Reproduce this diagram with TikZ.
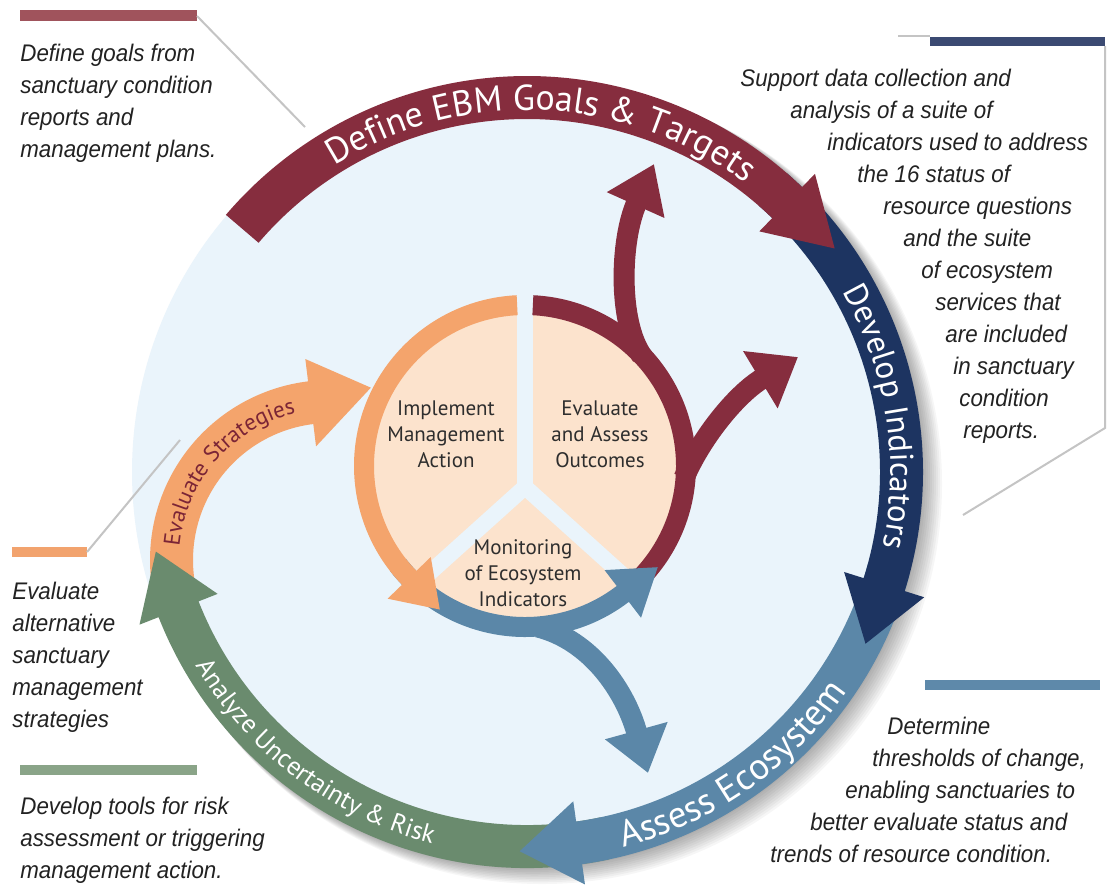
\documentclass[tikz,border=0pt]{standalone}
\usepackage{fontspec}
\setmainfont{Liberation Sans}
\newfontfamily\annfont{Liberation Sans}[FakeStretch=0.93]
\newfontfamily\lblfont{PT Sans}
\usetikzlibrary{calc,decorations.text,arrows.meta}
\definecolor{maroonc}{HTML}{862D3E}
\definecolor{navyc}{HTML}{1D3461}
\definecolor{steelc}{HTML}{5B87A8}
\definecolor{greenc}{HTML}{6A8B6E}
\definecolor{orangec}{HTML}{F4A46C}
\definecolor{discc}{HTML}{EAF4FB}
\definecolor{peachc}{HTML}{FCE3CD}
\definecolor{barmaroon}{HTML}{A0535C}
\definecolor{barnavy}{HTML}{3B4A72}
\definecolor{barorange}{HTML}{F2A36E}
\definecolor{barsteel}{HTML}{5E89AA}
\definecolor{bargreen}{HTML}{8AA488}
\definecolor{leadc}{HTML}{C4C4C4}
\definecolor{anntext}{HTML}{222222}
\definecolor{inntext}{HTML}{2E2E2E}
\definecolor{strattext}{HTML}{7B2536}
% band with arrow head: center, Ri, Ro, start angle, base angle, head direction, head length, head half width, colour
\newcommand{\bandarrow}[9]{%
  \fill[#9] ($(#1)+(#4:#3)$) arc[start angle=#4, end angle=#5, radius=#3]
    -- ($(#1)+(#5:{(#2+#3)/2+#8})$)
    -- ($(#1)+(#5:{(#2+#3)/2})+(#6:#7)$)
    -- ($(#1)+(#5:{(#2+#3)/2-#8})$)
    -- ($(#1)+(#5:#2)$) arc[start angle=#5, end angle=#4, radius=#2] -- cycle;}
% plain band: center, Ri, Ro, a1, a2, colour
\newcommand{\plainband}[6]{%
  \fill[#6] ($(#1)+(#4:#3)$) arc[start angle=#4, end angle=#5, radius=#3]
    -- ($(#1)+(#5:#2)$) arc[start angle=#5, end angle=#4, radius=#2] -- cycle;}
\begin{document}
\begin{tikzpicture}[x=0.5pt,y=0.5pt,
  ann/.style={font=\annfont\itshape\fontsize{12}{16}\selectfont, text=anntext, align=left, anchor=north west, inner sep=0pt},
  inlbl/.style={font=\lblfont\fontsize{10.5}{13}\selectfont, text=inntext, align=center, inner sep=0pt},
  leader/.style={draw=leadc, line width=1pt},
  branch/.style={line width=10.5pt}]
\useasboundingbox (0,0) rectangle (1111,-890);
\fill[white] (0,0) rectangle (1111,-890);
\coordinate (O) at (527,-472);
\coordinate (C2) at (525,-466);
\coordinate (C3) at (330,-560);
% shadow
\foreach \k in {1,...,10} \fill[black, opacity=0.035] ($(O)+(\k*1.5,-\k*1.2)$) circle[radius={395+\k*0.5}];
% disc
\fill[discc] (O) circle[radius=395];
% evaluate strategies arc
\bandarrow{C3}{137}{180}{195}{97}{14}{62}{44}{orangec}
\path[decorate, decoration={text along path, text align=center, text color=strattext,
  text={|\lblfont\fontsize{11.5}{11.5}\selectfont|Evaluate Strategies}}]
  ($(C3)+(190:151)$) arc[start angle=190, end angle=88, radius=151];
% outer ring
\bandarrow{O}{353}{396}{-78}{-158.5}{111.5}{62}{42}{greenc}
\bandarrow{O}{353}{396}{-15}{-82}{-172}{60}{42}{steelc}
\bandarrow{O}{353}{396}{49}{-17.5}{-107.5}{62}{42}{navyc}
\bandarrow{O}{353}{396}{139.5}{46}{-44}{66}{40}{maroonc}
% ring labels
\path[decorate, decoration={text along path, text align=center, text color=white,
  text={|\lblfont\fontsize{18}{18}\selectfont|Define EBM Goals {\&} Targets}}]
  ($(O)+(137.5:362)$) arc[start angle=137.5, end angle=37.5, radius=362];
\path[decorate, decoration={text along path, text align=center, text color=white,
  text={|\lblfont\fontsize{16.5}{16.5}\selectfont|Develop Indicators}}]
  ($(O)+(50:363.5)$) arc[start angle=50, end angle=-32, radius=363.5];
\path[decorate, decoration={text along path, text align=center, text color=white,
  text={|\lblfont\fontsize{18.5}{18.5}\selectfont|Assess Ecosystem}}]
  ($(O)+(-100:387.5)$) arc[start angle=-100, end angle=-10, radius=387.5];
\path[decorate, decoration={text along path, text align=center, text color=white,
  text={|\lblfont\fontsize{13}{13}\selectfont|Analyze Uncertainty {\&} Risk}}]
  ($(O)+(-172:383.5)$) arc[start angle=-172, end angle=-82, radius=383.5];
% inner circle
\fill[peachc] (C2) circle[radius=152];
\coordinate (J) at (525,-487);
\begin{scope}
  \clip (C2) circle[radius=156];
  \draw[discc, line width=8pt] (J) -- ++(-138:200);
  \draw[discc, line width=8pt] (J) -- ++(-42:200);
\end{scope}
\draw[discc, line width=8pt] (J) -- (525,-285);
\plainband{C2}{151}{171}{87.2}{-48}{maroonc}
\coordinate (mb1s) at (642,-356);
\coordinate (mb1t) at (654,-164);
\coordinate (mb2s) at (684,-478);
\coordinate (mb2t) at (798,-357);
\draw[maroonc, branch, -{Triangle[length=22.5pt,width=30pt]}] (mb1s) .. controls (618,-322) and (620,-240) .. (mb1t);
\draw[maroonc, branch, -{Triangle[length=22pt,width=32pt]}] (mb2s) .. controls (700,-440) and (735,-395) .. (mb2t);
\bandarrow{C2}{151}{171}{218}{307.4}{37.4}{44}{30}{steelc}
\coordinate (sbs) at (538,-627);
\coordinate (sbt) at (648,-773);
\draw[steelc, branch, -{Triangle[length=22pt,width=31pt]}] (sbs) .. controls (590,-640) and (625,-690) .. (sbt);
\bandarrow{C2}{151}{171}{92.8}{224}{314}{44}{30}{orangec}
\node[inlbl] (impl) at (446,-434) {Implement\\Management\\Action};
\node[inlbl] (eval) at (600,-434) {Evaluate\\and Assess\\Outcomes};
\node[inlbl] (mon) at (523,-573) {Monitoring\\of Ecosystem\\Indicators};
% bars and leaders
\fill[barmaroon] (20,-10) rectangle (197,-21);
\fill[barnavy] (930,-37) rectangle (1105,-46);
\fill[barorange] (12,-547) rectangle (87,-557);
\fill[barsteel] (925,-680) rectangle (1100,-690);
\fill[bargreen] (20,-765) rectangle (197,-775);
\coordinate (l1a) at (197,-16);
\coordinate (l1b) at (305,-127);
\draw[leader] (l1a) -- (l1b);
\coordinate (l2a) at (1105,-46);
\coordinate (l2b) at (1105,-428);
\coordinate (l2c) at (963,-515);
\draw[leader] (l2a) -- (l2b) -- (l2c);
\coordinate (l2d) at (898,-36);
\coordinate (l2e) at (930,-36);
\draw[leader] (l2d) -- (l2e);
\coordinate (l3a) at (87,-552);
\coordinate (l3b) at (180,-440);
\draw[leader] (l3a) -- (l3b);
% annotations
\node[ann] (tl) at (20,-44) {Define goals from\\sanctuary condition\\reports and\\management plans.};
\node[ann] (tr) at (740,-69) {Support data collection and\\
\hspace*{25pt}analysis of a suite of\\
\hspace*{43.5pt}indicators used to address\\
\hspace*{58.5pt}the 16 status of\\
\hspace*{71.5pt}resource questions\\
\hspace*{81.5pt}and the suite\\
\hspace*{90.5pt}of ecosystem\\
\hspace*{97.5pt}services that\\
\hspace*{102.5pt}are included\\
\hspace*{106.5pt}in sanctuary\\
\hspace*{109.5pt}condition\\
\hspace*{111.5pt}reports.};
\node[ann] (lm) at (12,-582) {Evaluate\\alternative\\sanctuary\\management\\strategies};
\node[ann] (bl) at (20,-797) {Develop tools for risk\\assessment or triggering\\management action.};
\node[ann] (br) at (770,-717) {\hspace*{58.5pt}Determine\\
\hspace*{51pt}thresholds of change,\\
\hspace*{37.5pt}enabling sanctuaries to\\
\hspace*{20pt}better evaluate status and\\
trends of resource condition.};
\end{tikzpicture}
\end{document}
